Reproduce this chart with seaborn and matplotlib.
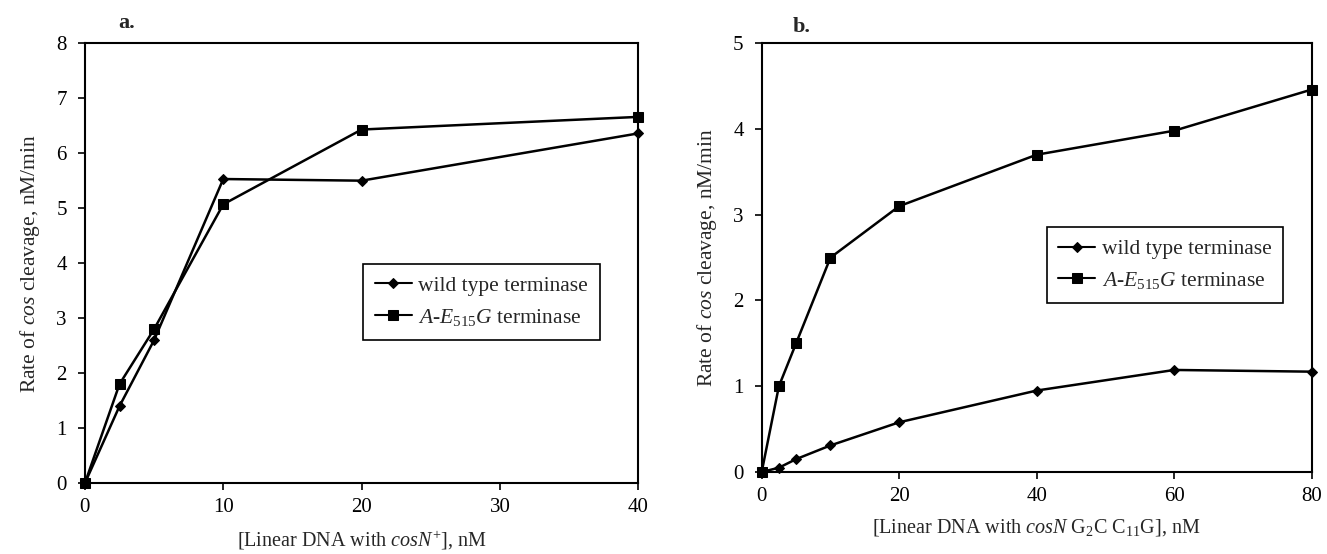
import numpy as np
import pandas as pd
import matplotlib
matplotlib.use("Agg")
import matplotlib.pyplot as plt
import seaborn as sns

# ---- data ----
conc_a = [0, 2.5, 5, 10, 20, 40]
wild_a = [0, 1.4, 2.6, 5.53, 5.5, 6.36]
mut_a = [0, 1.8, 2.8, 5.07, 6.43, 6.66]

conc_b = [0, 2.5, 5, 10, 20, 40, 60, 80]
wild_b = [0, 0.05, 0.15, 0.31, 0.58, 0.95, 1.19, 1.17]
mut_b = [0, 1.0, 1.5, 2.5, 3.1, 3.7, 3.98, 4.46]

wild_label = "wild type terminase"
mut_label = r"$\it{A}$-$\it{E}_{\it{515}}\it{G}$ terminase"

sns.set_style("ticks")
plt.rcParams["font.family"] = ["Liberation Serif", "DejaVu Serif"]
plt.rcParams["mathtext.fontset"] = "custom"
plt.rcParams["mathtext.rm"] = "Liberation Serif"
plt.rcParams["mathtext.it"] = "Liberation Serif:italic"
plt.rcParams["mathtext.bf"] = "Liberation Serif:bold"


def make_df(conc, wild, mut):
    return pd.DataFrame({
        "conc": list(conc) * 2,
        "rate": list(wild) + list(mut),
        "enzyme": [wild_label] * len(conc) + [mut_label] * len(conc),
    })


fig = plt.figure(figsize=(13.27, 5.54), dpi=100)
ax_a = fig.add_axes([0.064, 0.128, 0.417, 0.794])
ax_b = fig.add_axes([0.574, 0.148, 0.4145, 0.774])

panels = [
    (ax_a, make_df(conc_a, wild_a, mut_a), (0, 40), np.arange(0, 41, 10), (0, 8),
     np.arange(0, 9, 1), r"[Linear DNA with $\it{cosN}^{\mathrm{+}}$], nM", "a.",
     (0.503, 0.498), (0.06, 1.045)),
    (ax_b, make_df(conc_b, wild_b, mut_b), (0, 80), np.arange(0, 81, 20), (0, 5),
     np.arange(0, 6, 1), r"[Linear DNA with $\it{cosN}$ G$_2$C C$_{11}$G], nM", "b.",
     (0.518, 0.571), (0.056, 1.037)),
]

for ax, df, xlim, xticks, ylim, yticks, xlabel, tag, anchor, tagpos in panels:
    sns.lineplot(data=df, x="conc", y="rate", hue="enzyme", style="enzyme",
                 hue_order=[wild_label, mut_label], style_order=[wild_label, mut_label],
                 palette=["black", "black"], markers={wild_label: "D", mut_label: "s"},
                 dashes=False, linewidth=1.8, markersize=6.5, markeredgecolor="black",
                 clip_on=False, ax=ax)
    for ln in ax.lines:
        if ln.get_marker() == "D":
            ln.set_markersize(5.5)
    ax.set_xlim(*xlim)
    ax.set_ylim(*ylim)
    ax.set_xticks(xticks)
    ax.set_yticks(yticks)
    ax.tick_params(direction="out", length=5, width=1.2, labelsize=15, colors="black", pad=6)
    ax.tick_params(axis="y", pad=8)
    for sp in ax.spines.values():
        sp.set_visible(True)
        sp.set_linewidth(1.5)
        sp.set_color("black")
    ax.set_xlabel(xlabel, fontsize=14.5, labelpad=8)
    ax.set_ylabel(r"Rate of $\it{cos}$ cleavage, nM/min", fontsize=15.5, labelpad=10)
    ax.text(tagpos[0], tagpos[1], tag, transform=ax.transAxes, fontsize=16, fontweight="bold",
            ha="left", va="center")
    leg = ax.legend(loc="upper left", bbox_to_anchor=anchor, borderaxespad=0, frameon=True,
                    fancybox=False, edgecolor="black", framealpha=1, fontsize=15.5,
                    handlelength=1.7, handletextpad=0.3, borderpad=0.55, labelspacing=0.5,
                    title=None)
    leg.get_frame().set_linewidth(1.2)
    for h in leg.legend_handles:
        h.set_linewidth(1.5)

fig.savefig("out.png", dpi=100)
